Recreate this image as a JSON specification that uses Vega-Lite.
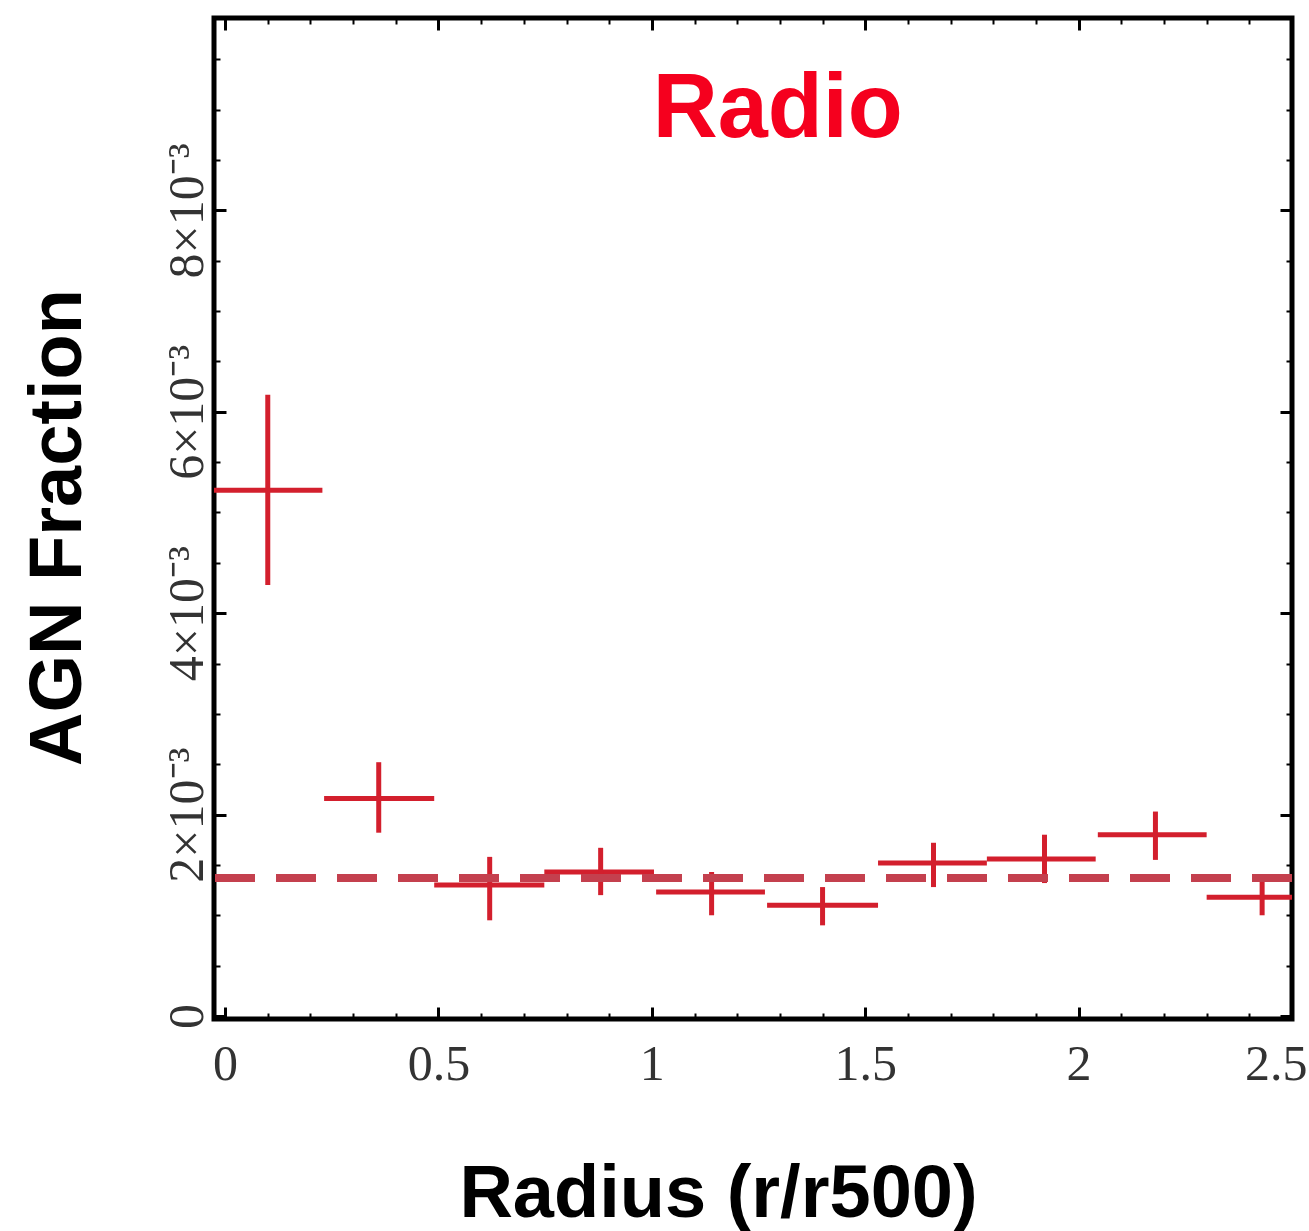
{
  "$schema": "https://vega.github.io/schema/vega-lite/v6.json",
  "width": 1078,
  "height": 1001,
  "autosize": {"type": "none"},
  "padding": {"left": 214, "top": 18, "right": 17, "bottom": 212},
  "background": "white",
  "config": {
    "view": {"stroke": "black", "strokeWidth": 5},
    "axis": {"domain": false, "grid": false, "tickColor": "black"}
  },
  "data": {
    "values": [
      {"r": 0.10, "frac": 0.00522, "rlo": -0.028, "rhi": 0.228, "flo": 0.00428, "fhi": 0.00617},
      {"r": 0.36, "frac": 0.00216, "rlo": 0.232, "rhi": 0.490, "flo": 0.00182, "fhi": 0.00252},
      {"r": 0.62, "frac": 0.00130, "rlo": 0.490, "rhi": 0.748, "flo": 0.00095, "fhi": 0.00158},
      {"r": 0.88, "frac": 0.00143, "rlo": 0.748, "rhi": 1.005, "flo": 0.00120, "fhi": 0.00167},
      {"r": 1.14, "frac": 0.00123, "rlo": 1.010, "rhi": 1.265, "flo": 0.00100, "fhi": 0.00143},
      {"r": 1.40, "frac": 0.00110, "rlo": 1.270, "rhi": 1.530, "flo": 0.00090, "fhi": 0.00128},
      {"r": 1.66, "frac": 0.00152, "rlo": 1.530, "rhi": 1.785, "flo": 0.00128, "fhi": 0.00172},
      {"r": 1.92, "frac": 0.00156, "rlo": 1.785, "rhi": 2.040, "flo": 0.00132, "fhi": 0.00180},
      {"r": 2.18, "frac": 0.00180, "rlo": 2.045, "rhi": 2.300, "flo": 0.00155, "fhi": 0.00203},
      {"r": 2.43, "frac": 0.00118, "rlo": 2.300, "rhi": 2.560, "flo": 0.00100, "fhi": 0.00135}
    ]
  },
  "resolve": {"axis": {"x": "independent", "y": "independent"}},
  "layer": [
    {
      "mark": {"type": "rule", "color": "#d31f2d", "strokeWidth": 5, "clip": true},
      "encoding": {
        "x": {
          "field": "rlo", "type": "quantitative",
          "scale": {"domain": [-0.026, 2.5], "nice": false, "zero": false},
          "axis": {
            "orient": "bottom",
            "values": [0,0.1,0.2,0.3,0.4,0.5,0.6,0.7,0.8,0.9,1,1.1,1.2,1.3,1.4,1.5,1.6,1.7,1.8,1.9,2,2.1,2.2,2.3,2.4,2.5],
            "tickSize": {"condition": {"test": "abs(datum.value*2 - round(datum.value*2)) < 0.01", "value": -12}, "value": -6},
            "tickWidth": {"condition": {"test": "abs(datum.value*2 - round(datum.value*2)) < 0.01", "value": 3}, "value": 2},
            "labelExpr": "abs(datum.value*2 - round(datum.value*2)) < 0.01 ? ('' + datum.value) : ''",
            "labelAlign": {"condition": {"test": "datum.value > 2.45", "value": "right"}, "value": "center"},
            "labelOffset": {"condition": {"test": "datum.value > 2.45", "value": 15}, "value": 0},
            "labelFont": "Liberation Serif",
            "labelFontSize": 50,
            "labelColor": "#333333",
            "labelPadding": 32,
            "labelFlush": false,
            "labelOverlap": false,
            "labelBound": false,
            "title": "Radius (r/r500)",
            "titleFont": "Liberation Sans",
            "titleFontWeight": "bold",
            "titleFontSize": 74,
            "titleColor": "black",
            "titleX": 504,
            "titleY": 197,
            "titleBaseline": "alphabetic",
            "titleAnchor": "middle"
          }
        },
        "x2": {"field": "rhi"},
        "y": {
          "field": "frac", "type": "quantitative",
          "scale": {"domain": [-0.00003, 0.00991], "nice": false, "zero": false},
          "axis": {
            "orient": "left",
            "values": [0,0.0005,0.001,0.0015,0.002,0.0025,0.003,0.0035,0.004,0.0045,0.005,0.0055,0.006,0.0065,0.007,0.0075,0.008,0.0085,0.009,0.0095],
            "tickSize": {"condition": {"test": "abs(datum.value*500 - round(datum.value*500)) < 0.01", "value": -12}, "value": -6},
            "tickWidth": {"condition": {"test": "abs(datum.value*500 - round(datum.value*500)) < 0.01", "value": 3}, "value": 2},
            "labelExpr": "datum.value == 0 ? '0' : (abs(datum.value*500 - round(datum.value*500)) < 0.01 ? round(datum.value*1000) + '×10⁻³' : '')",
            "labelAngle": -90,
            "labelAlign": "center",
            "labelBaseline": "alphabetic",
            "labelFont": "Liberation Serif",
            "labelFontSize": 50,
            "labelColor": "#333333",
            "labelPadding": 24,
            "labelOverlap": false,
            "labelBound": false,
            "labelFlush": false,
            "title": "AGN Fraction",
            "titleFont": "Liberation Sans",
            "titleFontWeight": "bold",
            "titleFontSize": 74,
            "titleColor": "black",
            "titleAngle": -90,
            "titleX": -134,
            "titleY": 509,
            "titleBaseline": "alphabetic",
            "titleAnchor": "middle"
          }
        }
      }
    },
    {
      "mark": {"type": "rule", "color": "#d31f2d", "strokeWidth": 5, "clip": true},
      "encoding": {
        "x": {
          "field": "r", "type": "quantitative",
          "scale": {"domain": [-0.026, 2.5], "nice": false, "zero": false},
          "axis": {
            "orient": "top",
            "values": [0,0.1,0.2,0.3,0.4,0.5,0.6,0.7,0.8,0.9,1,1.1,1.2,1.3,1.4,1.5,1.6,1.7,1.8,1.9,2,2.1,2.2,2.3,2.4,2.5],
            "tickSize": {"condition": {"test": "abs(datum.value*2 - round(datum.value*2)) < 0.01", "value": -12}, "value": -6},
            "tickWidth": {"condition": {"test": "abs(datum.value*2 - round(datum.value*2)) < 0.01", "value": 3}, "value": 2},
            "labels": false,
            "title": null
          }
        },
        "y": {
          "field": "flo", "type": "quantitative",
          "scale": {"domain": [-0.00003, 0.00991], "nice": false, "zero": false},
          "axis": {
            "orient": "right",
            "values": [0,0.0005,0.001,0.0015,0.002,0.0025,0.003,0.0035,0.004,0.0045,0.005,0.0055,0.006,0.0065,0.007,0.0075,0.008,0.0085,0.009,0.0095],
            "tickSize": {"condition": {"test": "abs(datum.value*500 - round(datum.value*500)) < 0.01", "value": -12}, "value": -6},
            "tickWidth": {"condition": {"test": "abs(datum.value*500 - round(datum.value*500)) < 0.01", "value": 3}, "value": 2},
            "labels": false,
            "title": null
          }
        },
        "y2": {"field": "fhi"}
      }
    },
    {
      "mark": {"type": "rule", "color": "#c4404e", "strokeWidth": 7, "strokeDash": [40, 21], "clip": true},
      "encoding": {
        "y": {"datum": 0.00137, "type": "quantitative", "axis": null}
      }
    },
    {
      "data": {"values": [{"r": 1.295, "frac": 0.00873, "label": "Radio"}]},
      "mark": {"type": "text", "color": "#f5001e", "font": "Liberation Sans", "fontWeight": "bold", "fontSize": 90, "align": "center", "baseline": "alphabetic"},
      "encoding": {
        "x": {"field": "r", "type": "quantitative", "axis": null},
        "y": {"field": "frac", "type": "quantitative", "axis": null},
        "text": {"field": "label"}
      }
    }
  ]
}
